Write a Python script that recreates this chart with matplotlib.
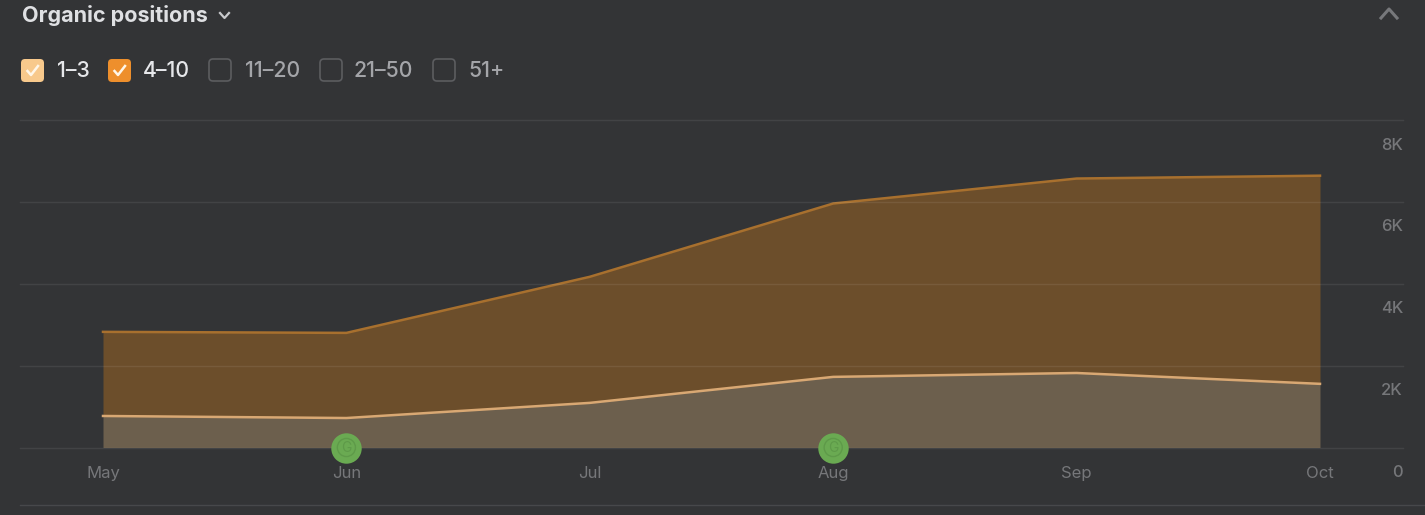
#!/usr/bin/env python3
import numpy as np
import matplotlib
matplotlib.use("Agg")
import matplotlib.pyplot as plt
from matplotlib.patches import FancyBboxPatch

W, H = 1425, 515
BG = "#333436"

months = ["May", "Jun", "Jul", "Aug", "Sep", "Oct"]
pos_1_3 = [770, 720, 1090, 1725, 1820, 1555]
pos_4_10 = [2055, 2080, 3080, 4235, 4750, 5085]
y_ticks = [0, 2000, 4000, 6000, 8000]
y_labels = ["0", "2K", "4K", "6K", "8K"]
update_months = [1, 3]  # Jun, Aug markers

legend_labels = ["1–3", "4–10", "11–20", "21–50", "51+"]
legend_on = [True, True, False, False, False]
legend_colors = ["#f8c98c", "#ee8f2c", None, None, None]

plt.rcParams["font.family"] = ["Inter", "DejaVu Sans"]

fig = plt.figure(figsize=(W / 100, H / 100), dpi=100, facecolor=BG)

# chart area, in figure pixels
left, right, top, bottom = 20, 1403, 120, 447.5
ax = fig.add_axes([left / W, 1 - bottom / H, (right - left) / W, (bottom - top) / H])
ax.set_facecolor("none")

x = np.arange(len(months))
low = np.array(pos_1_3)
high = low + np.array(pos_4_10)

ax.fill_between(x, low, high, color="#6c4e2b", lw=0, zorder=2)
ax.fill_between(x, 0, low, color="#6c5f4d", lw=0, zorder=2)
ax.plot(x, high, color="#a8702e", lw=1.8, zorder=3)
ax.plot(x, low, color="#d9a873", lw=1.8, zorder=3)

ax.set_xlim(-83 / 243.4, (right - 103) / 243.4)
ax.set_ylim(0, 8000)

for v, lab in zip(y_ticks, y_labels):
    ax.axhline(v, color="white", alpha=0.08, lw=1, zorder=4, clip_on=False)
    ax.annotate(lab, xy=(1, v), xycoords=("axes fraction", "data"), xytext=(0, -25),
                textcoords="offset pixels", ha="right", va="center",
                color="#76777a", fontsize=12, fontweight="medium")

ax.set_xticks(x, months)
ax.tick_params(axis="x", length=0, pad=13.5, labelsize=12, labelcolor="#76777a")
ax.set_yticks([])
for s in ax.spines.values():
    s.set_visible(False)

# update markers on the baseline
ux = x[update_months]
uy = np.zeros(len(ux))
ax.scatter(ux, uy, s=480, color="#6aaa52", lw=0, zorder=5, clip_on=False)
ax.scatter(ux, uy, s=170, facecolor="none", edgecolor="#5e9a49", lw=1, zorder=6, clip_on=False)
for i in ux:
    ax.text(i, 0, "G", color="#5e9a49", fontsize=10, ha="center", va="center", zorder=7)

# header and legend, drawn in image pixels
ui = fig.add_axes([0, 0, 1, 1], zorder=10)
ui.set_xlim(0, W)
ui.set_ylim(H, 0)
ui.axis("off")

ui.text(22, 16, "Organic positions", color="#dfe0e3", fontsize=15.5, fontweight="bold", va="center")
ui.plot([220, 224.5, 229], [13, 18, 13], color="#c8c9cc", lw=1.6)
ui.plot([1381, 1389, 1397], [18, 9, 18], color="#77787b", lw=2.2)
ui.plot([20, 1425], [505, 505], color="#47484b", lw=1)

box_x = [21, 108, 209, 320, 433]
text_x = [57, 143, 245, 354, 468]
for bx, tx, lab, on, col in zip(box_x, text_x, legend_labels, legend_on, legend_colors):
    if on:
        ui.add_patch(FancyBboxPatch((bx + 3, 62), 17, 17, boxstyle="round,pad=3,rounding_size=4",
                                    fc=col, ec="none"))
        ui.plot([bx + 6.5, bx + 10, bx + 17], [71, 75, 66], color="#fff6e8", lw=1.8)
    else:
        ui.add_patch(FancyBboxPatch((bx + 3, 62), 16, 16, boxstyle="round,pad=3,rounding_size=4",
                                    fc="none", ec="#5c5d60", lw=1.2))
    ui.text(tx, 71, lab, color="#e6e7ea" if on else "#a4a5a9", fontsize=15.3,
            fontweight="medium", va="center")

fig.savefig("out.png", dpi=100, facecolor=BG)
